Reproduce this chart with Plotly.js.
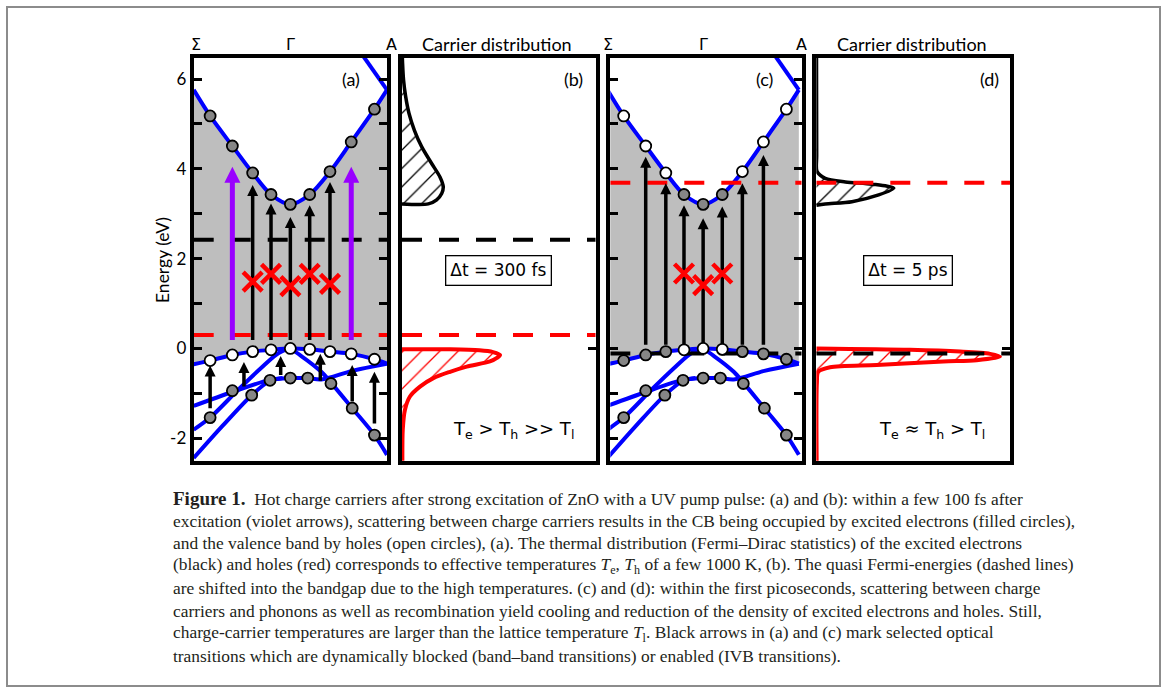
<!DOCTYPE html>
<html><head><meta charset="utf-8">
<script src="https://cdn.plot.ly/plotly-3.0.1.min.js"></script>
<style>html,body{margin:0;padding:0;background:#fff}#chart{width:1163px;height:693px}</style>
</head><body><div id="chart"></div>
<script>
// ================= DATA =================
// k-path: Σ = -1, Γ = 0, A = 1
const kTickVals = [-1, 0, 1];
const kTickText = ['Σ', 'Γ', 'A'];
const energyTicks = [-2, 0, 2, 4, 6];
const energyTickText = ['-2', '0', '2', '4', '6'];

// band structure (eV)
const upperK = [0.66, 1.0];
const upperE = [6.80, 5.76];
const cbK = [-1.0, -0.83, -0.6, -0.39, -0.2, 0, 0.2, 0.41, 0.63, 0.87, 1.0];
const cbE = [5.76, 5.18, 4.51, 3.91, 3.43, 3.21, 3.43, 3.94, 4.60, 5.33, 5.76];
const vb1K = [-1.0, -0.83, -0.6, -0.39, -0.2, 0, 0.2, 0.41, 0.63, 0.87, 1.0];
const vb1E = [-0.35, -0.27, -0.145, -0.07, -0.03, 0.0, -0.02, -0.07, -0.12, -0.24, -0.34];
const vb2K = [-1.0, -0.83, -0.54, -0.3, -0.12, 0, 0.12, 0.32, 0.42, 0.64, 0.87, 1.0];
const vb2E = [-1.81, -1.54, -0.92, -0.43, -0.1, -0.02, -0.18, -0.52, -0.76, -1.33, -1.93, -2.37];
const vb3K = [-1.0, -0.6, -0.21, 0, 0.18, 0.32, 0.64, 1.0];
const vb3E = [-1.28, -0.97, -0.70, -0.66, -0.66, -0.69, -0.50, -0.34];
const vb4K = [-1.0, -0.7, -0.4, -0.21, -0.08];
const vb4E = [-2.44, -1.72, -1.04, -0.72, -0.66];

// occupation circles
const dotK = [-0.83, -0.6, -0.39, -0.2, 0, 0.2, 0.41, 0.63, 0.87];
const cbDotE = [5.18, 4.51, 3.91, 3.43, 3.21, 3.43, 3.94, 4.60, 5.33];
const vbDotE = [-0.27, -0.145, -0.07, -0.03, 0.0, -0.02, -0.07, -0.12, -0.24];
const lowDotK = [-0.83, -0.6, -0.4, -0.21, 0, 0.18, 0.42, 0.64, 0.87];
const lowDotE = [-1.54, -0.94, -1.04, -0.71, -0.66, -0.66, -0.78, -1.33, -1.93];
const cbFilledA = [1, 1, 1, 1, 1, 1, 1, 1, 1];
const vbFilledA = [0, 0, 0, 0, 0, 0, 0, 0, 0];
const lowFilledA = [1, 1, 1, 1, 1, 1, 1, 1, 1];
const cbFilledC = [0, 0, 0, 1, 1, 1, 0, 0, 0];
const vbFilledC = [1, 1, 1, 0, 0, 0, 1, 1, 1];
const lowFilledC = [1, 1, 1, 1, 1, 1, 1, 1, 1];

// transitions (arrows)
const pumpK = [-0.6, 0.63];
const pumpFrom = [0.19, 0.19];
const pumpTo = [4.05, 4.05];
const bbK_A = [-0.39, -0.2, 0, 0.2, 0.41];
const bbFrom_A = [0.19, 0.19, 0.19, 0.19, 0.19];
const bbTo_A = [3.64, 3.23, 2.93, 3.19, 3.71];
const ivbK_A = [-0.83, -0.48, -0.1, 0.31, 0.64, 0.87];
const ivbFrom_A = [-1.33, -0.85, -0.59, -0.72, -1.18, -1.67];
const ivbTo_A = [-0.38, -0.3, -0.17, -0.12, -0.37, -0.52];
const bbK_C = [-0.6, -0.39, -0.2, 0, 0.2, 0.41, 0.63];
const bbFrom_C = [0.08, 0.08, 0.08, 0.08, 0.08, 0.08, 0.08];
const bbTo_C = [4.27, 3.68, 3.19, 2.90, 3.16, 3.68, 4.31];
const blockK_A = [-0.39, -0.2, 0, 0.2, 0.41];
const blockE_A = [1.49, 1.66, 1.39, 1.66, 1.44];
const blockK_C = [-0.2, 0, 0.2];
const blockE_C = [1.67, 1.41, 1.67];

// quasi Fermi energies [300 fs, 5 ps]
const qfElectron = [2.42, 3.69];
const qfHole = [0.30, -0.11];

// carrier distributions (relative occupation vs energy)
const elecB_f = [0, 0.136, 0.179, 0.205, 0.213, 0.196, 0.153, 0.102, 0.064, 0.036, 0.019, 0.008, 0.003, 0.001];
const elecB_E = [3.22, 3.22, 3.31, 3.45, 3.60, 3.82, 4.12, 4.49, 4.86, 5.24, 5.61, 5.98, 6.35, 6.6];
const holeB_f = [0, 0.25, 0.40, 0.47, 0.506, 0.49, 0.454, 0.334, 0.248, 0.162, 0.093, 0.041, 0.015, 0.004, 0.002];
const holeB_E = [-0.02, -0.02, -0.04, -0.08, -0.145, -0.21, -0.29, -0.405, -0.52, -0.66, -0.85, -1.07, -1.37, -1.81, -2.6];
const elecD_f = [0, 0.046, 0.184, 0.322, 0.40, 0.288, 0.15, 0.046, 0.004, 0.002, 0.001];
const elecD_E = [3.19, 3.22, 3.27, 3.42, 3.57, 3.66, 3.71, 3.79, 3.94, 4.3, 6.6];
const holeD_f = [0, 0.484, 0.742, 0.897, 0.948, 0.828, 0.656, 0.312, 0.071, 0.01, 0.003, 0.002];
const holeD_E = [0.0, -0.03, -0.07, -0.12, -0.18, -0.26, -0.29, -0.37, -0.42, -0.52, -0.77, -2.6];

const delayLabels = ['Δt = 300 fs', 'Δt = 5 ps'];
const tempLabels = ['T<sub>e</sub> > T<sub>h</sub> >> T<sub>l</sub>', 'T<sub>e</sub> ≈ T<sub>h</sub> > T<sub>l</sub>'];
const panelLetters = ['(a)', '(b)', '(c)', '(d)'];

const captionLines = [
  '<span style="font-size:19px"><b>Figure 1.</b></span>\u2002Hot charge carriers after strong excitation of ZnO with a UV pump pulse: (a) and (b): within a few 100 fs after',
  'excitation (violet arrows), scattering between charge carriers results in the CB being occupied by excited electrons (filled circles),',
  'and the valence band by holes (open circles), (a). The thermal distribution (Fermi–Dirac statistics) of the excited electrons',
  '(black) and holes (red) corresponds to effective temperatures <i>T</i><sub>e</sub>, <i>T</i><sub>h</sub> of a few 1000 K, (b). The quasi Fermi-energies (dashed lines)',
  'are shifted into the bandgap due to the high temperatures. (c) and (d): within the first picoseconds, scattering between charge',
  'carriers and phonons as well as recombination yield cooling and reduction of the density of excited electrons and holes. Still,',
  'charge-carrier temperatures are larger than the lattice temperature <i>T</i><sub>l</sub>. Black arrows in (a) and (c) mark selected optical',
  'transitions which are dynamically blocked (band–band transitions) or enabled (IVB transitions).'
];

// ================= LAYOUT / STYLE =================
const W = 1163, H = 693;
const fx = px => px / W;
const fy = py => 1 - py / H;
const PLOT_TOP = 58, PLOT_BOTTOM = 460.7;
const E_RANGE = [-2.5, 6.47];
const PX_PER_EV = (PLOT_BOTTOM - PLOT_TOP) / (E_RANGE[1] - E_RANGE[0]);
const panelPx = { a: [193.7, 387], b: [402, 595.7], c: [610.3, 801.7], d: [816.3, 1010] };
const kRangeA = [-1, 1], kRangeC = [-0.97, 1.03];
const BLUE = '#0000ff', GREY_FILL = '#bebebe', DOT_GREY = '#868686', VIOLET = '#9900ff', RED = '#ff0000';
const SANS = 'Lato, "DejaVu Sans", sans-serif';
const WIDE_SANS = '"DejaVu Sans", sans-serif';
const SERIF = '"Liberation Serif", "DejaVu Serif", serif';

const traces = [];

function bandPanel(xa, ya) {
  // grey region between top valence band and conduction band
  traces.push({x: vb1K, y: vb1E, xaxis: xa, yaxis: ya, mode: 'lines', line: {width: 0, shape: 'spline'}, hoverinfo: 'skip'});
  traces.push({x: cbK, y: cbE, xaxis: xa, yaxis: ya, mode: 'lines', fill: 'tonexty', fillcolor: GREY_FILL, line: {width: 0, shape: 'spline'}, hoverinfo: 'skip'});
  [[upperK, upperE], [cbK, cbE], [vb1K, vb1E], [vb2K, vb2E], [vb3K, vb3E], [vb4K, vb4E]].forEach(([k, e]) => {
    traces.push({x: k, y: e, xaxis: xa, yaxis: ya, mode: 'lines', line: {color: BLUE, width: 4, shape: 'spline', smoothing: 0.9}, hoverinfo: 'skip'});
  });
}

function dashed(xa, ya, xr, e, color) {
  traces.push({x: xr, y: [e, e], xaxis: xa, yaxis: ya, mode: 'lines', line: {color: color, width: 4, dash: '20px,17px'}, hoverinfo: 'skip'});
}

function arrows(xa, ya, k, from, to, color, width, head) {
  const sx = [], sy = [];
  const back = 0.6 * head / PX_PER_EV;
  k.forEach((kk, i) => { sx.push(kk, kk, null); sy.push(from[i], to[i] - back, null); });
  traces.push({x: sx, y: sy, xaxis: xa, yaxis: ya, mode: 'lines', line: {color: color, width: width}, hoverinfo: 'skip'});
  traces.push({x: k, y: to, xaxis: xa, yaxis: ya, mode: 'markers', marker: {symbol: 'arrow-up', size: head, color: color, line: {width: 0}}, hoverinfo: 'skip'});
}

function dots(xa, ya, k, e, filled) {
  traces.push({x: k, y: e, xaxis: xa, yaxis: ya, mode: 'markers', marker: {symbol: 'circle', size: 11, color: filled.map(f => f ? DOT_GREY : '#ffffff'), line: {color: 'black', width: 1.8}}, hoverinfo: 'skip'});
}

function blocks(xa, ya, k, e) {
  traces.push({x: k, y: e, xaxis: xa, yaxis: ya, mode: 'markers', marker: {symbol: 'x-thin', size: 19, color: RED, line: {color: RED, width: 4.5}}, hoverinfo: 'skip'});
}

function distribution(xa, ya, f, e, color, width) {
  traces.push({x: f, y: e, xaxis: xa, yaxis: ya, mode: 'lines', fill: 'toself', fillcolor: 'rgba(255,255,255,0)',
    fillpattern: {shape: '/', fgcolor: color, bgcolor: 'rgba(255,255,255,0)', size: 13, solidity: 0.1},
    line: {color: color, width: width, shape: 'spline', smoothing: 0.8}, hoverinfo: 'skip'});
}

// panel (a)
bandPanel('x', 'y');
dashed('x', 'y', kRangeA, qfHole[0], RED);
dashed('x', 'y', kRangeA, qfElectron[0], 'black');
arrows('x', 'y', pumpK, pumpFrom, pumpTo, VIOLET, 5, 16);
arrows('x', 'y', bbK_A, bbFrom_A, bbTo_A, 'black', 3.5, 11);
arrows('x', 'y', ivbK_A, ivbFrom_A, ivbTo_A, 'black', 3.5, 11);
dots('x', 'y', dotK, cbDotE, cbFilledA);
dots('x', 'y', dotK, vbDotE, vbFilledA);
dots('x', 'y', lowDotK, lowDotE, lowFilledA);
blocks('x', 'y', blockK_A, blockE_A);

// panel (b)
distribution('x2', 'y2', elecB_f, elecB_E, 'black', 3.5);
distribution('x2', 'y2', holeB_f, holeB_E, RED, 4);
dashed('x2', 'y2', [0, 1], qfHole[0], RED);
dashed('x2', 'y2', [0, 1], qfElectron[0], 'black');

// panel (c)
bandPanel('x3', 'y3');
dashed('x3', 'y3', kRangeC, qfElectron[1], RED);
dashed('x3', 'y3', kRangeC, qfHole[1], 'black');
arrows('x3', 'y3', bbK_C, bbFrom_C, bbTo_C, 'black', 3.5, 11);
dots('x3', 'y3', dotK, cbDotE, cbFilledC);
dots('x3', 'y3', dotK, vbDotE, vbFilledC);
dots('x3', 'y3', lowDotK, lowDotE, lowFilledC);
blocks('x3', 'y3', blockK_C, blockE_C);

// panel (d)
distribution('x4', 'y4', elecD_f, elecD_E, 'black', 3.5);
distribution('x4', 'y4', holeD_f, holeD_E, RED, 4);
dashed('x4', 'y4', [0, 1], qfElectron[1], RED);
dashed('x4', 'y4', [0, 1], qfHole[1], 'black');

// axes
const base = {showline: true, linewidth: 4, linecolor: 'black', mirror: true, showgrid: false, zeroline: false,
  ticks: '', showticklabels: false, fixedrange: true};
const yDomain = [fy(PLOT_BOTTOM), fy(PLOT_TOP)];
const tickStyle = {ticks: 'inside', ticklen: 8, tickwidth: 3, tickcolor: 'black'};
const bandY = Object.assign({}, base, tickStyle, {domain: yDomain, range: E_RANGE, tickvals: energyTicks, ticktext: energyTickText,
  mirror: 'allticks', minor: Object.assign({dtick: 1, tick0: 0, showgrid: false}, tickStyle)});
const distY = Object.assign({}, base, tickStyle, {domain: yDomain, range: E_RANGE, side: 'right', tickvals: [0]});

const layout = {
  width: W, height: H, margin: {l: 0, r: 0, t: 0, b: 0}, paper_bgcolor: 'white', plot_bgcolor: 'white', showlegend: false,
  xaxis: Object.assign({}, base, {domain: [fx(panelPx.a[0]), fx(panelPx.a[1])], range: kRangeA, anchor: 'y'}),
  yaxis: Object.assign({}, bandY, {anchor: 'x', showticklabels: true, tickfont: {family: SANS, size: 17, color: 'black'}}),
  xaxis2: Object.assign({}, base, {domain: [fx(panelPx.b[0]), fx(panelPx.b[1])], range: [0, 1], anchor: 'y2'}),
  yaxis2: Object.assign({}, distY, {anchor: 'x2'}),
  xaxis3: Object.assign({}, base, {domain: [fx(panelPx.c[0]), fx(panelPx.c[1])], range: kRangeC, anchor: 'y3'}),
  yaxis3: Object.assign({}, bandY, {anchor: 'x3'}),
  xaxis4: Object.assign({}, base, {domain: [fx(panelPx.d[0]), fx(panelPx.d[1])], range: [0, 1], anchor: 'y4'}),
  yaxis4: Object.assign({}, distY, {anchor: 'x4'}),
  shapes: [
    {type: 'rect', xref: 'paper', yref: 'paper', x0: fx(7), x1: fx(1160), y0: fy(686), y1: fy(7), line: {color: '#8c8c8c', width: 2}}
  ],
  annotations: []
};

const ann = layout.annotations;
// k-point labels (positioned through each panel's k scale)
function kToPx(panel, range, k) { return panel[0] + (k - range[0]) / (range[1] - range[0]) * (panel[1] - panel[0]); }
[[panelPx.a, kRangeA, [2.5, 0, 4]], [panelPx.c, kRangeC, [1, 0, 3]]].forEach(([p, r, shifts]) => {
  kTickVals.forEach((k, i) => ann.push({xref: 'paper', yref: 'paper', x: fx(kToPx(p, r, k) + shifts[i]), y: fy(44), text: kTickText[i],
    showarrow: false, xanchor: 'center', yanchor: 'middle', font: {family: WIDE_SANS, size: 16, color: 'black'}}));
});
// Carrier distribution titles
[496.7, 911.7].forEach(px => ann.push({xref: 'paper', yref: 'paper', x: fx(px), y: fy(44), text: 'Carrier distribution',
  showarrow: false, xanchor: 'center', yanchor: 'middle', font: {family: SANS, size: 18, color: 'black'}}));
// panel letters
[351, 573, 765, 989].forEach((px, i) => ann.push({xref: 'paper', yref: 'paper', x: fx(px), y: fy(79), text: panelLetters[i],
  showarrow: false, xanchor: 'center', yanchor: 'middle', font: {family: SANS, size: 18, color: 'black'}}));
// y title
ann.push({xref: 'paper', yref: 'paper', x: fx(162), y: fy(260), text: 'Energy (eV)', textangle: -90, showarrow: false,
  xanchor: 'center', yanchor: 'middle', font: {family: SANS, size: 17.5, color: 'black'}});
// delay boxes
[498.3, 907.5].forEach((px, i) => ann.push({xref: 'paper', yref: 'paper', x: fx(px), y: fy(270.3), text: delayLabels[i],
  showarrow: false, xanchor: 'center', yanchor: 'middle', bordercolor: 'black', borderwidth: 1.3, borderpad: 4, bgcolor: 'white',
  font: {family: WIDE_SANS, size: 17, color: 'black'}}));
// temperature relations
[513, 931.7].forEach((px, i) => ann.push({xref: 'paper', yref: 'paper', x: fx(px), y: fy(430), text: tempLabels[i],
  showarrow: false, xanchor: 'center', yanchor: 'middle', font: {family: WIDE_SANS, size: 18, color: 'black'}}));
// caption
captionLines.forEach((t, i) => ann.push({xref: 'paper', yref: 'paper', x: fx(171), y: fy(498.3 + 22.5 * i), text: t,
  showarrow: false, xanchor: 'left', yanchor: 'middle', align: 'left', font: {family: SERIF, size: 17.4, color: '#231f20'}}));

Plotly.newPlot('chart', traces, layout, {staticPlot: true, displayModeBar: false});
</script></body></html>
